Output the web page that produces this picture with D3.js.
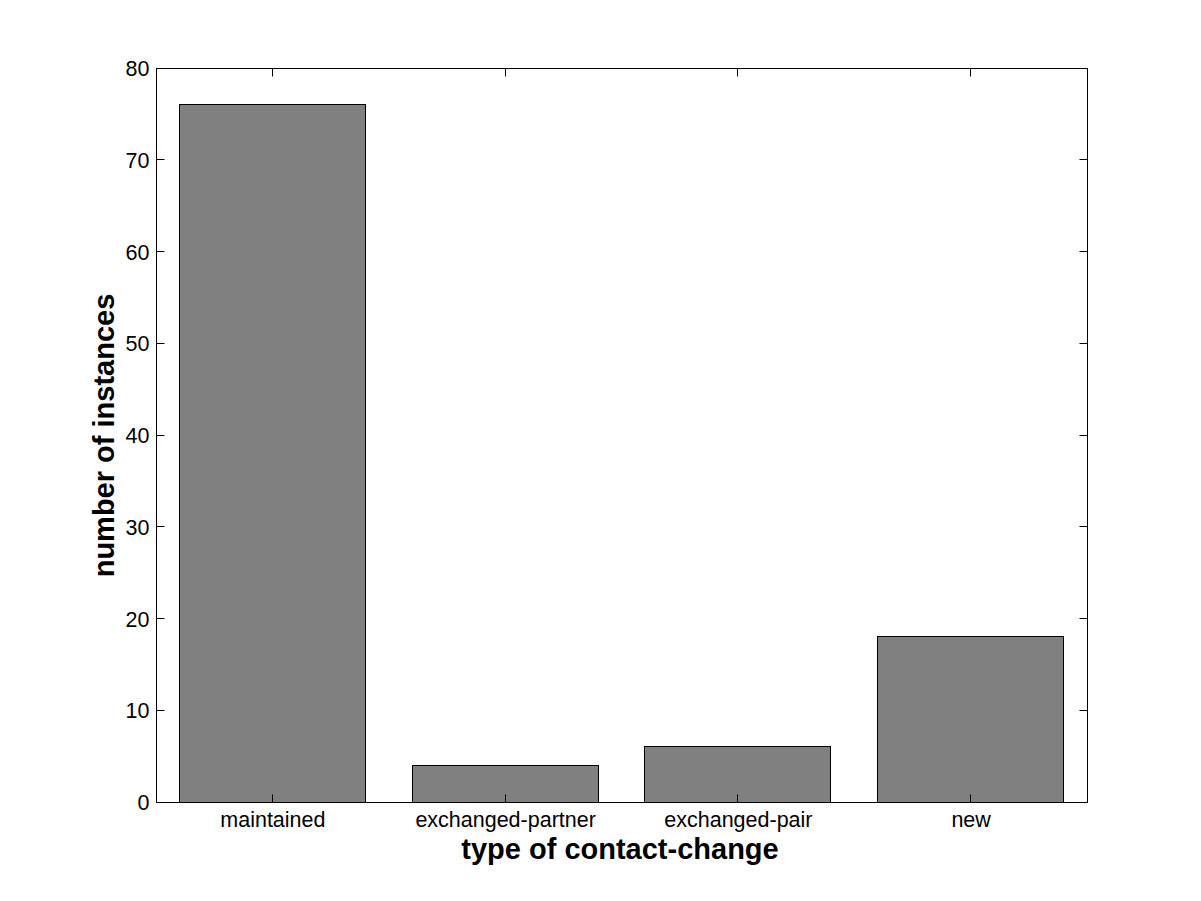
<!DOCTYPE html>
<html><head><meta charset="utf-8">
<script src="https://cdn.jsdelivr.net/npm/d3@7"></script>
<style>body{margin:0;background:#fff;} svg{display:block;}</style>
</head><body>
<svg id="c" width="1201" height="901"></svg>
<script>
const categories = ["maintained", "exchanged-partner", "exchanged-pair", "new"];
const values = [76, 4, 6, 18];
const yTicks = [0, 10, 20, 30, 40, 50, 60, 70, 80];

const svg = d3.select("#c");
const L = 156.5, R = 1087.5, T = 68.5, B = 802.5;
const x = d3.scaleLinear().domain([0.5, 4.5]).range([L, R]);
const y = d3.scaleLinear().domain([0, 80]).range([B, T]);
const font = "'Liberation Sans', Arial, sans-serif";

svg.append("rect").attr("x",0).attr("y",0).attr("width",1201).attr("height",901).attr("fill","#fff");

const bw = 0.8;
svg.selectAll("rect.bar").data(values).enter().append("rect").attr("class","bar")
  .attr("x",(d,i)=>Math.round(x(i+1-bw/2))-0.5)
  .attr("width",(d,i)=>Math.round(x(i+1+bw/2))-Math.round(x(i+1-bw/2)))
  .attr("y",d=>Math.round(y(d))-0.5)
  .attr("height",d=>Math.round(y(0))-Math.round(y(d)))
  .attr("fill","#808080").attr("stroke","#000").attr("stroke-width",1);

const tl = 8;
const g = svg.append("g").attr("stroke","#000").attr("stroke-width",1).attr("fill","none");
g.append("rect").attr("x",L).attr("y",T).attr("width",R-L).attr("height",B-T);
yTicks.forEach(v=>{
  const yy = Math.round(y(v))-0.5;
  g.append("line").attr("x1",L).attr("x2",L+tl).attr("y1",yy).attr("y2",yy);
  g.append("line").attr("x1",R).attr("x2",R-tl).attr("y1",yy).attr("y2",yy);
});
categories.forEach((c,i)=>{
  const xx = Math.round(x(i+1))-0.5;
  g.append("line").attr("x1",xx).attr("x2",xx).attr("y1",B).attr("y2",B-tl);
  g.append("line").attr("x1",xx).attr("x2",xx).attr("y1",T).attr("y2",T+tl);
});

svg.selectAll("text.yt").data(yTicks).enter().append("text").attr("class","yt")
  .attr("x",L-7).attr("y",d=>y(d)).attr("dy","0.35em")
  .attr("text-anchor","end").attr("font-family",font).attr("font-size",21.5)
  .text(d=>d);
svg.selectAll("text.xt").data(categories).enter().append("text").attr("class","xt")
  .attr("x",(d,i)=>x(i+1)).attr("y",827)
  .attr("text-anchor","middle").attr("font-family",font).attr("font-size",21.5)
  .text(d=>d);

svg.append("text").attr("x",(L+R)/2-2).attr("y",859).attr("text-anchor","middle")
  .attr("font-family",font).attr("font-size",29).attr("font-weight","bold")
  .text("type of contact-change");
svg.append("text").attr("transform",`translate(114,${(T+B)/2}) rotate(-90)`)
  .attr("text-anchor","middle").attr("font-family",font).attr("font-size",29).attr("font-weight","bold")
  .text("number of instances");
</script>
</body></html>
